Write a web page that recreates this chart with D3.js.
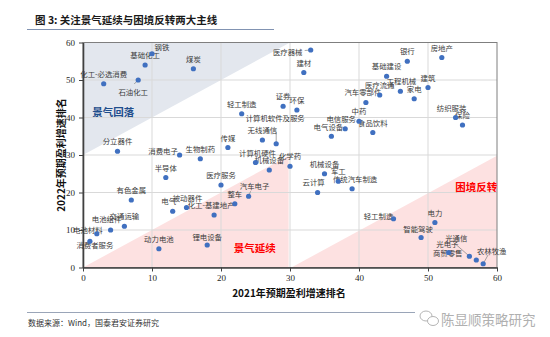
<!DOCTYPE html>
<html><head><meta charset="utf-8">
<script src="https://cdn.jsdelivr.net/npm/d3@7"></script>
<style>body{margin:0;background:#fff}svg{display:block}</style>
</head><body>
<script>
// ---------- data ----------
const industries = ["消费者服务","电池材料","化工-必选消费","电池组件","分立器件","交通运输","有色金属","石油化工","基础化工","钢铁",
  "动力电池","半导体","电气","消费电子","被动器件","煤炭","生物制药","锂电设备","化工-基建地产","医疗服务",
  "传媒","整车","轻工制造","汽车电子","计算机硬件","无线通信","机械设备","计算机软件及服务","证券","化学药",
  "环保","建材","医疗器械","云计算","机械设备","电气设备","军工","电信服务","传统汽车制造","中药",
  "汽车零部件","食品饮料","医疗流通","基础建设","轻工制造","工程机械","银行","家电","智能驾驶","建筑",
  "电力","房地产","商贸零售","纺织服装","保险","光电子","光通信","农林牧渔"];
const growth2021Rank = [1,2,3,4,5,6,7,8,9,10,11,12,13,14,15,16,17,18,19,20,21,22,23,24,25,26,27,28,29,30,
  31,32,33,34,35,36,37,38,39,40,41,42,43,44,45,46,47,48,49,50,51,52,53,54,55,56,57,58];
const growth2022Rank = [7,9,49,10,31,11,18,50,54,57,5,24,15,30,16,53,29,6,14,22,
  32,17,41,19,28,34,26,33,43,27,42,52,58,20,25,35,23,37,21,39,
  44,36,46,51,13,47,55,45,8,48,12,56,4,40,38,3,2,1];
const xTicks = [0,10,20,30,40,50,60];
const yTicks = [0,10,20,30,40,50,60];
const zoneNames = ["景气回落","景气延续","困境反转"];
const zoneCorners = [
  [[0,30],[0,60],[30,60]],
  [[0,0],[29.8,0],[29.8,29.8]],
  [[30.2,0],[60,0],[60,29.8]]
];
const zoneLabelAt = [[4.4,41.7],[24.9,5.4],[57,21.7]];

// ---------- label placement (layout only, px offsets from point) ----------
const labelOffset = {0:[5,3.5],1:[-9,-4.5],3:[-4,-11.5],7:[-5,11],9:[10,-7.5],12:[-4,-10.5],13:[-16.5,-5],
  14:[1,-10.5],17:[0,-9],18:[-3,-11],23:[6,-11],24:[2,-10.5],27:[-1,-26.5],32:[-23,1.5],33:[-4,-11],
  35:[-3,-10],37:[-4,-10.5],38:[3,-10.5],40:[-3,-11],44:[-15,-3],45:[1,-10.5],48:[-3,-9.5],52:[-1,0],
  53:[-4,-10.5],55:[-22,-12.5],56:[-20,-23],57:[8.5,-13]};
const leaderStart = {7:[-4,4],23:[2,-5],27:[0,-12],32:[-6,0.5],55:[-16,-14],57:[5,-9]};

const W=550,H=337;
const svg=d3.select("body").append("svg").attr("width",W).attr("height",H);
const x=d3.scaleLinear().domain([0,60]).range([83,497]);
const y=d3.scaleLinear().domain([0,60]).range([267.5,42.5]);
const CJK='"Noto Sans CJK SC","Noto Sans",sans-serif';
const SERIF='"Liberation Serif","DejaVu Serif",serif';

// title
svg.append("text").attr("x",35).attr("y",24).attr("font-family",CJK).attr("font-weight","bold")
  .attr("font-size",10.5).attr("fill","#1a1a1a").text("图 3:  关注景气延续与困境反转两大主线");
svg.append("line").attr("x1",27).attr("x2",274).attr("y1",29.5).attr("y2",29.5).attr("stroke","#8193b2").attr("stroke-width",1.2);

// zones
const zoneFill=["#e3e7ee","#fde1e1","#fde1e1"];
svg.selectAll("path.zone").data(zoneCorners).join("path").attr("class","zone")
  .attr("d",d=>"M"+d.map(p=>x(p[0])+","+y(p[1])).join("L")+"Z")
  .attr("fill",(d,i)=>zoneFill[i]);

// gridlines
const g=svg.append("g");
g.selectAll("line.vx").data(xTicks.slice(1,-1)).join("line").attr("x1",d=>x(d)).attr("x2",d=>x(d))
  .attr("y1",y(0)).attr("y2",y(60)).attr("stroke","#d9d9d9").attr("stroke-width",1);
g.selectAll("line.hy").data(yTicks.slice(1,-1)).join("line").attr("y1",d=>y(d)).attr("y2",d=>y(d))
  .attr("x1",x(0)).attr("x2",x(60)).attr("stroke","#d9d9d9").attr("stroke-width",1);

// border
svg.append("rect").attr("x",x(0)).attr("y",y(60)).attr("width",x(60)-x(0)).attr("height",y(0)-y(60))
  .attr("fill","none").attr("stroke","#7f7f7f").attr("stroke-width",1);

// axes
const xAxis=svg.append("g").attr("transform",`translate(0,${y(0)})`)
  .call(d3.axisBottom(x).tickValues(xTicks).tickSize(4).tickSizeOuter(0).tickPadding(3));
const yAxis=svg.append("g").attr("transform",`translate(${x(0)},0)`)
  .call(d3.axisLeft(y).tickValues(yTicks).tickSize(4).tickSizeOuter(0).tickPadding(4));
[xAxis,yAxis].forEach(a=>{
  a.select(".domain").attr("stroke","#404040").attr("stroke-width",1.6);
  a.selectAll(".tick line").attr("stroke","#404040").attr("stroke-width",1);
  a.selectAll(".tick text").attr("font-family",SERIF).attr("font-size",9).attr("fill","#262626");
});

// zone labels
svg.selectAll("text.zl").data(zoneNames).join("text").attr("class","zl")
  .attr("x",(d,i)=>x(zoneLabelAt[i][0])).attr("y",(d,i)=>y(zoneLabelAt[i][1]))
  .attr("text-anchor","middle").attr("dominant-baseline","central")
  .attr("font-family",CJK).attr("font-weight","bold").attr("font-size",10.5)
  .attr("fill",(d,i)=>i===0?"#1f4e8c":"#ff0000").text(d=>d);

// data
const pts=industries.map((n,i)=>({name:n,i,xv:growth2021Rank[i],yv:growth2022Rank[i]}));

// leader lines
svg.selectAll("line.leader").data(pts.filter(p=>leaderStart[p.i])).join("line").attr("class","leader")
  .attr("x1",p=>x(p.xv)+leaderStart[p.i][0]).attr("y1",p=>y(p.yv)+leaderStart[p.i][1])
  .attr("x2",p=>x(p.xv)).attr("y2",p=>y(p.yv)).attr("stroke","#808080").attr("stroke-width",0.7);

// labels
svg.selectAll("text.lbl").data(pts).join("text").attr("class","lbl")
  .attr("x",p=>x(p.xv)+(labelOffset[p.i]?labelOffset[p.i][0]:0))
  .attr("y",p=>y(p.yv)+(labelOffset[p.i]?labelOffset[p.i][1]:-10.5))
  .attr("text-anchor","middle").attr("dominant-baseline","central")
  .attr("font-family",CJK).attr("font-size",7.4).attr("fill","#3a3a3a").text(p=>p.name);

// points
svg.selectAll("circle.pt").data(pts).join("circle").attr("class","pt")
  .attr("cx",p=>x(p.xv)).attr("cy",p=>y(p.yv)).attr("r",2.6).attr("fill","#4070c0");

// axis titles
svg.append("text").attr("x",289).attr("y",292).attr("text-anchor","middle").attr("dominant-baseline","central")
  .attr("font-family",CJK).attr("font-weight","bold").attr("font-size",10).attr("fill","#111").text("2021年预期盈利增速排名");
svg.append("text").attr("transform","translate(60,155) rotate(-90)").attr("text-anchor","middle").attr("dominant-baseline","central")
  .attr("font-family",CJK).attr("font-weight","bold").attr("font-size",10).attr("fill","#111").text("2022年预期盈利增速排名");

// footer
svg.append("line").attr("x1",27).attr("x2",415).attr("y1",312.5).attr("y2",312.5).attr("stroke","#9aa5b8").attr("stroke-width",1.2);
svg.append("text").attr("x",28).attr("y",322).attr("dominant-baseline","central").attr("font-family",CJK)
  .attr("font-size",8).attr("fill","#333").text("数据来源：Wind，国泰君安证券研究");
// watermark
const wm=svg.append("g").attr("fill","none").attr("stroke","#b5b5b5").attr("stroke-width",1);
wm.append("ellipse").attr("cx",426).attr("cy",316).attr("rx",6).attr("ry",5);
wm.append("ellipse").attr("cx",433).attr("cy",321).attr("rx",5.5).attr("ry",4.5).attr("fill","#fff");
svg.append("text").attr("x",441).attr("y",319).attr("dominant-baseline","central").attr("font-family",CJK)
  .attr("font-size",13.5).attr("fill","#b0b0b0").text("陈显顺策略研究");
</script>
</body></html>
